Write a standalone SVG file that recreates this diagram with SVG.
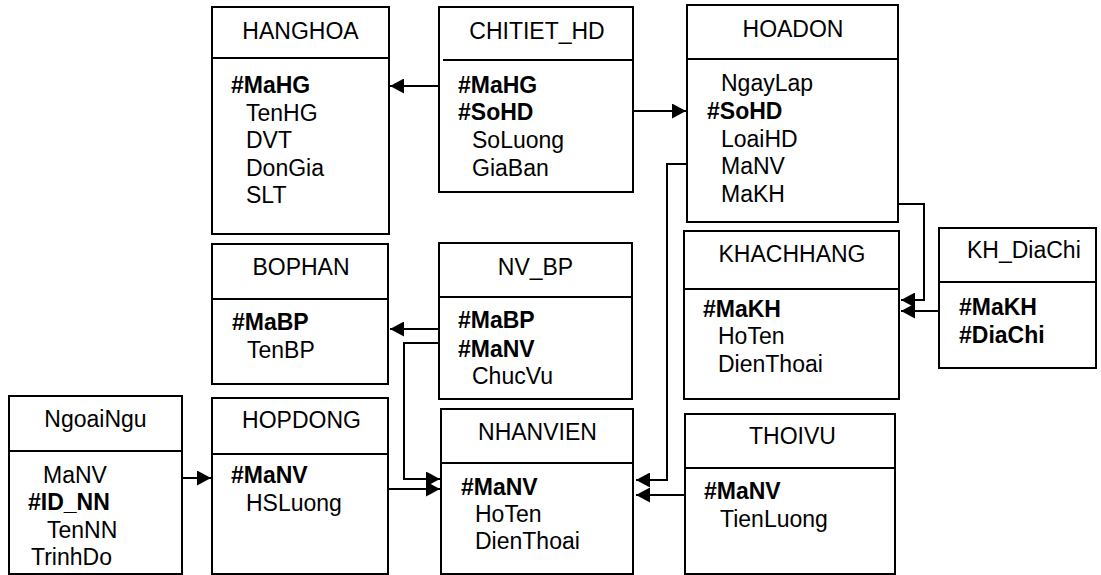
<svg xmlns="http://www.w3.org/2000/svg" width="1101" height="575" viewBox="0 0 1101 575">
<style>
.box{fill:#fff;stroke:#000;stroke-width:2}
.div{stroke:#000;stroke-width:2}
text{font-family:"Liberation Sans",Arial,sans-serif;font-size:23px;fill:#000}
.t{text-anchor:middle}
.k{font-weight:bold}
.c{fill:none;stroke:#000;stroke-width:2}
</style>
<defs>
<marker id="ah" markerUnits="userSpaceOnUse" markerWidth="15" markerHeight="15" refX="14" refY="7.5" orient="auto">
<path d="M0,0 L14,7.5 L0,15 z" fill="#000"/>
</marker>
</defs>
<rect width="1101" height="575" fill="#fff"/>
<g id="connectors">
<path class="c" d="M439,86 L390,86" marker-end="url(#ah)"/>
<path class="c" d="M633,111 L686,111" marker-end="url(#ah)"/>
<path class="c" d="M687,164 L667,164 L667,480 L636,480" marker-end="url(#ah)"/>
<path class="c" d="M898,204 L924,204 L924,300 L901,300" marker-end="url(#ah)"/>
<path class="c" d="M939,311 L901,311" marker-end="url(#ah)"/>
<path class="c" d="M439,329 L390,329" marker-end="url(#ah)"/>
<path class="c" d="M439,343 L404,343 L404,479 L440,479" marker-end="url(#ah)"/>
<path class="c" d="M388,489 L440,489" marker-end="url(#ah)"/>
<path class="c" d="M685,495 L636,495" marker-end="url(#ah)"/>
<path class="c" d="M182,478 L211,478" marker-end="url(#ah)"/>
</g>
<g id="HANGHOA">
<rect class="box" x="212" y="7" width="177" height="227"/>
<line class="div" x1="212" y1="58" x2="389" y2="58"/>
<text class="t" x="300.5" y="39">HANGHOA</text>
<text class="k" x="231" y="93">#MaHG</text>
<text x="246" y="120.5">TenHG</text>
<text x="246" y="148">DVT</text>
<text x="246" y="175.5">DonGia</text>
<text x="246" y="203">SLT</text>
</g>
<g id="CHITIET_HD">
<rect class="box" x="439" y="7" width="194" height="185"/>
<line class="div" x1="443" y1="60" x2="633" y2="60"/>
<text class="t" x="537" y="39">CHITIET_HD</text>
<text class="k" x="458" y="93">#MaHG</text>
<text class="k" x="458" y="120">#SoHD</text>
<text x="472" y="148">SoLuong</text>
<text x="472" y="176">GiaBan</text>
</g>
<g id="HOADON">
<rect class="box" x="687" y="5" width="211" height="217"/>
<line class="div" x1="687" y1="59" x2="898" y2="59"/>
<text class="t" x="793" y="37">HOADON</text>
<text x="721" y="91">NgayLap</text>
<text class="k" x="707" y="119">#SoHD</text>
<text x="721" y="147">LoaiHD</text>
<text x="721" y="174">MaNV</text>
<text x="721" y="202">MaKH</text>
</g>
<g id="BOPHAN">
<rect class="box" x="212" y="244" width="176" height="140"/>
<line class="div" x1="212" y1="299" x2="388" y2="299"/>
<text class="t" x="301" y="275">BOPHAN</text>
<text class="k" x="232" y="330">#MaBP</text>
<text x="247" y="358">TenBP</text>
</g>
<g id="NV_BP">
<rect class="box" x="439" y="243" width="193" height="156"/>
<line class="div" x1="439" y1="297" x2="632" y2="297"/>
<text class="t" x="535.5" y="275">NV_BP</text>
<text class="k" x="458" y="328">#MaBP</text>
<text class="k" x="458" y="357">#MaNV</text>
<text x="472" y="384">ChucVu</text>
</g>
<g id="KHACHHANG">
<rect class="box" x="684" y="231" width="215" height="168"/>
<line class="div" x1="684" y1="289" x2="899" y2="289"/>
<text class="t" x="792" y="262">KHACHHANG</text>
<text class="k" x="703" y="317">#MaKH</text>
<text x="718" y="344">HoTen</text>
<text x="718" y="372">DienThoai</text>
</g>
<g id="KH_DiaChi">
<rect class="box" x="939" y="228" width="157" height="140"/>
<line class="div" x1="939" y1="282" x2="1096" y2="282"/>
<text x="967" y="258">KH_DiaChi</text>
<text class="k" x="959" y="315">#MaKH</text>
<text class="k" x="959" y="343">#DiaChi</text>
</g>
<g id="NgoaiNgu">
<rect class="box" x="9" y="396" width="173" height="178"/>
<line class="div" x1="9" y1="451" x2="182" y2="451"/>
<text class="t" x="95.5" y="427">NgoaiNgu</text>
<text x="43" y="483">MaNV</text>
<text class="k" x="28" y="510">#ID_NN</text>
<text x="47" y="538">TenNN</text>
<text x="31" y="565">TrinhDo</text>
</g>
<g id="HOPDONG">
<rect class="box" x="212" y="398" width="176" height="176"/>
<line class="div" x1="212" y1="454" x2="388" y2="454"/>
<text class="t" x="301.5" y="428">HOPDONG</text>
<text class="k" x="231" y="483">#MaNV</text>
<text x="246" y="511">HSLuong</text>
</g>
<g id="NHANVIEN">
<rect class="box" x="441" y="409" width="192" height="165"/>
<line class="div" x1="441" y1="463" x2="633" y2="463"/>
<text class="t" x="537.5" y="440">NHANVIEN</text>
<text class="k" x="461" y="495">#MaNV</text>
<text x="475" y="522">HoTen</text>
<text x="475" y="549">DienThoai</text>
</g>
<g id="THOIVU">
<rect class="box" x="685" y="414" width="210" height="160"/>
<line class="div" x1="685" y1="468" x2="895" y2="468"/>
<text class="t" x="792.5" y="444">THOIVU</text>
<text class="k" x="704" y="499">#MaNV</text>
<text x="720" y="527">TienLuong</text>
</g>
</svg>
